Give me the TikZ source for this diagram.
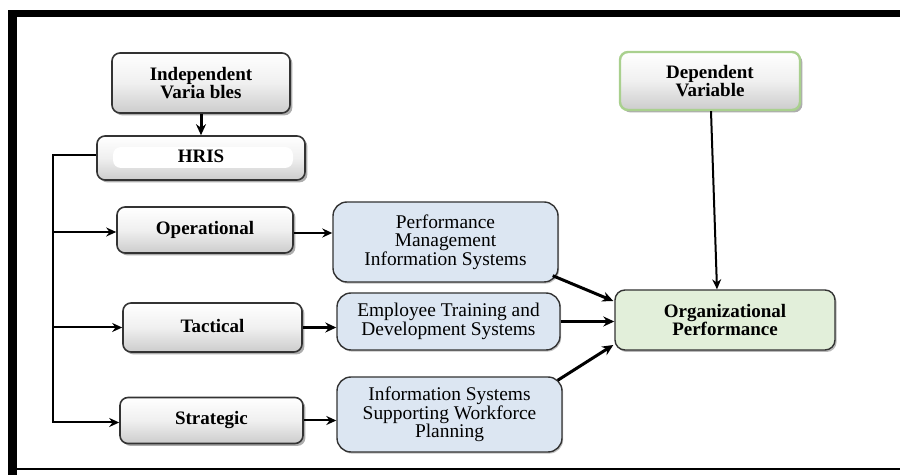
\documentclass[tikz,border=0pt]{standalone}
\usepackage{fontspec}
\setmainfont{Liberation Serif}
\usetikzlibrary{arrows.meta,shadows,calc}
\begin{document}
\begin{tikzpicture}[x=0.5pt,y=-0.5pt,
  graybox/.style={draw=black!80, line width=0.8pt, rounded corners=4pt, inner sep=0pt,
    top color=white, bottom color=gray!40, middle color=gray!12,
    drop shadow={shadow xshift=1.2pt, shadow yshift=-1.2pt, fill=gray!80, opacity=0.8},
    font=\fontsize{9.5}{9}\selectfont\bfseries, align=center},
  bluebox/.style={draw=black!80, line width=0.7pt, rounded corners=7pt, inner sep=0pt,
    fill={rgb,255:red,220;green,230;blue,242},
    drop shadow={shadow xshift=0.6pt, shadow yshift=-0.8pt, fill=gray!70, opacity=0.7},
    font=\fontsize{9.7}{9.2}\selectfont, align=center},
  greenbox/.style={draw=black!80, line width=0.7pt, rounded corners=5pt, inner sep=0pt,
    fill={rgb,255:red,226;green,239;blue,218},
    drop shadow={shadow xshift=0.8pt, shadow yshift=-1pt, fill=gray!70, opacity=0.8},
    font=\fontsize{9.5}{9}\selectfont\bfseries, align=center},
  conn/.style={line width=1pt, -{Stealth[length=5pt,width=4.5pt]}},
  thickconn/.style={line width=1.5pt, -{Stealth[length=5.5pt,width=5pt]}}
]
\useasboundingbox (0,0) rectangle (900,475);
% frame
\fill[black] (8,10) rectangle (900,17);
\fill[black] (8,10) rectangle (17,475);
\fill[black] (8,468) rectangle (900,470.5);

% nodes
\node[graybox, minimum width=89pt, minimum height=30pt] (IV) at (201,83) {Independent\\Varia bles};
\node[graybox, minimum width=104pt, minimum height=22pt,
  path picture={\fill[white] ([shift={(16,11)}]path picture bounding box.north west) rectangle ([shift={(-12,-12)}]path picture bounding box.south east);}]
  (HRIS) at (201,158) {\raisebox{1.5pt}{HRIS}};
\node[graybox, minimum width=88pt, minimum height=23pt] (Op) at (205,230) {\raisebox{2pt}{Operational}};
\node[graybox, minimum width=89.5pt, minimum height=24.5pt] (Ta) at (212.5,327.5) {\raisebox{2pt}{Tactical}};
\node[graybox, minimum width=91.5pt, minimum height=23pt] (St) at (211.5,420.5) {\raisebox{1pt}{Strategic}};

\node[bluebox, minimum width=112.5pt, minimum height=40pt] (PM) at (445.5,242) {Performance\\Management\\Information Systems};
\node[bluebox, minimum width=111.5pt, minimum height=28.5pt] (ET) at (448.5,321.5) {Employee Training and\\Development Systems};
\node[bluebox, minimum width=112.5pt, minimum height=37.5pt] (IS) at (449.5,414.5) {Information Systems\\Supporting Workforce\\Planning};

\node[greenbox, minimum width=110pt, minimum height=30pt] (OP) at (725,320) {Organizational\\Performance};
\node[graybox, draw={rgb,255:red,169;green,208;blue,142}, line width=1.2pt, minimum width=90pt, minimum height=29pt] (DV) at (710,81) {Dependent\\Variable};

% connectors
\draw[thickconn] (IV.south) -- (HRIS.north);
\coordinate (bus) at (53,155);
\draw[conn] ([yshift=1.5pt]HRIS.west) -- (bus) |- ([yshift=-1pt]St.west);
\draw[conn] ([yshift=-1pt]bus |- Op.west) -- ([yshift=-1pt]Op.west);
\draw[conn] (bus |- Ta.west) -- (Ta.west);

\draw[conn] ([yshift=-1.5pt]Op.east) -- ([yshift=-1.5pt]Op.east -| PM.west);
\draw[thickconn] (Ta.east) -- (Ta.east -| ET.west);
\draw[conn] (St.east) -- (St.east -| IS.west);

\draw[thickconn] ($(PM.south east)+(-6,-7)$) -- ($(OP.west)+(-1,-19)$);
\draw[thickconn] (ET.east) -- (ET.east -| OP.west);
\draw[thickconn] ($(IS.north east)+(-5,4)$) -- ($(OP.west)+(-1,25)$);
\draw[conn] ([xshift=0.5pt]DV.south) -- ([xshift=-4pt]OP.north);
\end{tikzpicture}
\end{document}
